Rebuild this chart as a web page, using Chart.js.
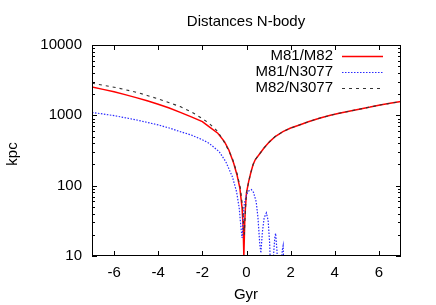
<!DOCTYPE html>
<html><head><meta charset="utf-8">
<script src="https://cdn.jsdelivr.net/npm/chart.js@4"></script>
<style>html,body{margin:0;padding:0;background:#fff}#c{display:block}</style>
</head><body>
<canvas id="c" width="436" height="305"></canvas>
<script>
const title = "Distances N-body";
const xTitle = "Gyr";
const yTitle = "kpc";
const xTicks = [-6, -4, -2, 0, 2, 4, 6];
const yTicks = [10, 100, 1000, 10000];
const seriesNames = ["M81/M82", "M81/N3077", "M82/N3077"];

const redX = [-7,-6.5,-6,-5.5,-5,-4.5,-4,-3.5,-3,-2.5,-2,-1.7,-1.3,-1,-0.8,-0.58,-0.43,-0.3,-0.2,-0.15,-0.12,-0.08,-0.05,0,0.1,0.2,0.3,0.4,0.6,0.8,1.05,1.3,1.65,2,2.4,2.8,3.3,3.8,4.2,4.7,5.1,5.6,6.05,6.5,7];
const redY = [2520,2340,2170,1970,1785,1610,1440,1270,1100,950,813,692,556,423,322,208,142,92,48,25,10,30,48,80,115,155,200,235,285,345,423,500,586,660,730,810,908,1000,1072,1150,1222,1310,1406,1480,1570];

const blueX = [-7,-6.5,-6,-5.5,-5,-4.5,-4,-3.5,-3,-2.5,-2,-1.7,-1.24,-0.94,-0.64,-0.45,-0.33,-0.25,-0.2,-0.15,-0.1,0,0.1,0.22,0.32,0.44,0.52,0.6,0.65,0.72,0.8,0.9,0.98,1.05,1.1,1.2,1.28,1.32,1.38,1.45,1.55,1.62,1.66,1.7,1.75];
const blueY = [1100,1045,990,925,861,795,730,660,586,525,450,401,305,220,134,82,48,25,18,35,55,75,84,88,80,59,35,15,11,22,35,41,32,15,5,8,18,21,12,4,6,12,14,6,2];

const grayX = [-7,-6.5,-6,-5.5,-5,-4.5,-4,-3.5,-3,-2.5,-2,-1.7,-1.3,-0.94,-0.64,-0.43,-0.28,-0.17,-0.1,-0.05,0,0.1,0.2,0.3,0.4,0.6,0.8,1.05,1.3,1.65,2,2.4,2.8,3.3,3.8,4.2,4.7,5.1,5.6,6.05,6.5,7];
const grayY = [2860,2680,2510,2320,2130,1920,1710,1510,1330,1120,900,771,588,380,245,150,93,48,20,45,78,115,155,200,235,285,345,423,500,586,660,730,810,908,1000,1072,1150,1222,1310,1406,1480,1570];

const FONT = '"Liberation Sans", Arial, sans-serif';
const pts = (xs, ys) => xs.map((x, i) => ({x: x, y: ys[i]}));

const styles = [
  {color: '#ff0000', width: 1.5, dash: []},
  {color: '#2a2aff', width: 1.2, dash: [1.5, 1.5]},
  {color: '#333333', width: 1.1, dash: [3, 4]}
];

const framePlugin = {
  id: 'frame',
  afterDatasetsDraw(chart) {
    const {ctx, chartArea: a, scales} = chart;
    const xs = scales.x, ys = scales.y;
    ctx.save();
    ctx.strokeStyle = '#000';
    ctx.lineWidth = 1;
    ctx.setLineDash([]);
    ctx.strokeRect(a.left + 0.5, a.top + 0.5, a.right - a.left - 1, a.bottom - a.top - 1);
    ctx.beginPath();
    xTicks.forEach(v => {
      const px = Math.round(xs.getPixelForValue(v)) + 0.5;
      ctx.moveTo(px, a.bottom); ctx.lineTo(px, a.bottom - 5);
      ctx.moveTo(px, a.top); ctx.lineTo(px, a.top + 5);
    });
    for (let d = 0; d < yTicks.length; d++) {
      const base = yTicks[d];
      const py = Math.round(ys.getPixelForValue(base)) + 0.5;
      ctx.moveTo(a.left, py); ctx.lineTo(a.left + 5, py);
      ctx.moveTo(a.right, py); ctx.lineTo(a.right - 5, py);
      if (d < yTicks.length - 1) {
        for (let m = 2; m <= 9; m++) {
          const my = Math.round(ys.getPixelForValue(base * m)) + 0.5;
          ctx.moveTo(a.left, my); ctx.lineTo(a.left + 3, my);
          ctx.moveTo(a.right, my); ctx.lineTo(a.right - 3, my);
        }
      }
    }
    ctx.stroke();

    // legend
    ctx.font = '15px ' + FONT;
    ctx.fillStyle = '#000';
    ctx.textAlign = 'right';
    ctx.textBaseline = 'middle';
    const rowsY = [56, 72, 88];
    seriesNames.forEach((n, i) => {
      ctx.fillText(n, 333, rowsY[i]);
      ctx.beginPath();
      ctx.strokeStyle = styles[i].color;
      ctx.lineWidth = styles[i].width;
      ctx.setLineDash(styles[i].dash);
      ctx.moveTo(342, rowsY[i] + 0.5);
      ctx.lineTo(383, rowsY[i] + 0.5);
      ctx.stroke();
    });
    ctx.setLineDash([]);

    // titles
    ctx.fillStyle = '#000';
    ctx.textAlign = 'center';
    ctx.fillText(title, 246, 22);
    ctx.fillText(xTitle, 246, 295);
    ctx.save();
    ctx.translate(13, 154);
    ctx.rotate(-Math.PI / 2);
    ctx.fillText(yTitle, 0, 0);
    ctx.restore();
    ctx.restore();
  }
};

new Chart(document.getElementById('c'), {
  type: 'line',
  data: {
    datasets: [
      {label: seriesNames[0], data: pts(redX, redY)},
      {label: seriesNames[1], data: pts(blueX, blueY)},
      {label: seriesNames[2], data: pts(grayX, grayY)}
    ].map((d, i) => Object.assign(d, {
      borderColor: styles[i].color,
      borderWidth: styles[i].width,
      borderDash: styles[i].dash,
      pointRadius: 0,
      fill: false,
      tension: 0,
      clip: 0
    })).reverse()
  },
  options: {
    responsive: false,
    animation: false,
    events: [],
    layout: {padding: {left: 0, top: 45, right: 35, bottom: 0}},
    plugins: {legend: {display: false}, tooltip: {enabled: false}, title: {display: false}},
    scales: {
      x: {
        type: 'linear', min: -7, max: 7,
        grid: {display: false, drawTicks: false},
        border: {display: false},
        afterBuildTicks: s => { s.ticks = xTicks.map(v => ({value: v})); },
        afterFit: s => { s.height = 49; },
        ticks: {padding: 8, color: '#000', font: {family: FONT, size: 15}, maxRotation: 0, autoSkip: false,
                callback: v => String(v)}
      },
      y: {
        type: 'logarithmic', min: 10, max: 10000,
        grid: {display: false, drawTicks: false},
        border: {display: false},
        afterBuildTicks: s => { s.ticks = yTicks.map(v => ({value: v})); },
        afterFit: s => { s.width = 92; },
        ticks: {padding: 10, color: '#000', font: {family: FONT, size: 15}, autoSkip: false,
                callback: v => String(v)}
      }
    }
  },
  plugins: [framePlugin]
});
</script>
</body></html>
